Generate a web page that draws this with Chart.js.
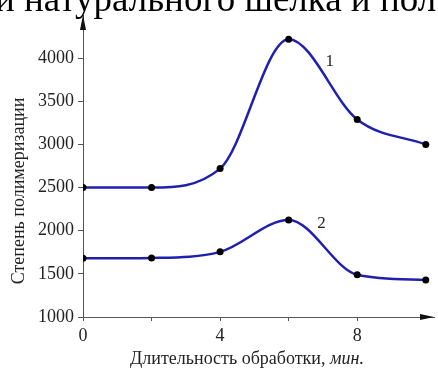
<!DOCTYPE html>
<html>
<head>
<meta charset="utf-8">
<script src="https://cdn.jsdelivr.net/npm/chart.js@4"></script>
<style>
  html, body { margin: 0; padding: 0; background: #fff; }
  #wrap { width: 438px; height: 369px; }
</style>
</head>
<body>
<div id="wrap"><canvas id="degreeChart" width="438" height="369"></canvas></div>
<script>
const times = [0, 2, 4, 6, 8, 10];           // мин.
const curve1 = [2500, 2500, 2720, 4220, 3290, 3000];
const curve2 = [1680, 1685, 1755, 2125, 1490, 1430];
const xTicks = [0, 2, 4, 6, 8];
const xLabeled = [0, 4, 8];
const yTicks = [1000, 1500, 2000, 2500, 3000, 3500, 4000];
const curveNames = ['1', '2'];
const curveNamePos = [[7.2, 3960], [6.96, 2080]];

const serif = '"Liberation Serif", "Times New Roman", serif';
const axisColor = '#555';
const lineColor = '#2020b0';

// arrows on the axes, axis captions, curve numbers and the cut caption line above
const decorations = {
  id: 'decorations',
  afterDraw(chart) {
    const ctx = chart.ctx;
    const a = chart.chartArea;
    ctx.save();
    ctx.fillStyle = '#111';
    // y arrow
    ctx.beginPath();
    ctx.moveTo(a.left, a.top);
    ctx.lineTo(a.left - 3, a.top + 15);
    ctx.lineTo(a.left + 3, a.top + 15);
    ctx.closePath();
    ctx.fill();
    // x arrow
    ctx.beginPath();
    ctx.moveTo(a.right, a.bottom);
    ctx.lineTo(a.right - 14, a.bottom - 3);
    ctx.lineTo(a.right - 14, a.bottom + 3);
    ctx.closePath();
    ctx.fill();

    const xs = chart.scales.x, ys = chart.scales.y;
    ctx.font = '17px ' + serif;
    ctx.fillStyle = '#222';
    ctx.textAlign = 'center';
    ctx.textBaseline = 'middle';
    curveNames.forEach((n, i) => {
      ctx.fillText(n, xs.getPixelForValue(curveNamePos[i][0]), ys.getPixelForValue(curveNamePos[i][1]));
    });

    // y caption
    ctx.save();
    ctx.translate(19, 191);
    ctx.rotate(-Math.PI / 2);
    ctx.font = '18px ' + serif;
    ctx.fillText('Степень полимеризации', 0, 0);
    ctx.restore();

    // x caption, units in italics
    const plain = 'Длительность обработки, ';
    const units = 'мин.';
    ctx.font = '18px ' + serif;
    const w1 = ctx.measureText(plain).width;
    ctx.font = 'italic 18px ' + serif;
    const w2 = ctx.measureText(units).width;
    const x0 = 247 - (w1 + w2) / 2;
    ctx.textAlign = 'left';
    ctx.font = '18px ' + serif;
    ctx.fillText(plain, x0, 359);
    ctx.font = 'italic 18px ' + serif;
    ctx.fillText(units, x0 + w1, 359);

    ctx.font = '37px ' + serif;
    ctx.fillStyle = '#000';
    ctx.textBaseline = 'alphabetic';
    ctx.fillText('и натурального шелка и пол', -5, 11);
    ctx.restore();
  }
};

new Chart(document.getElementById('degreeChart'), {
  type: 'line',
  data: {
    datasets: [
      { data: times.map((t, i) => ({ x: t, y: curve1[i] })) },
      { data: times.map((t, i) => ({ x: t, y: curve2[i] })) }
    ]
  },
  options: {
    responsive: false,
    animation: false,
    layout: { padding: { top: 15, right: 1, left: 0, bottom: 0 } },
    elements: {
      line: { borderColor: lineColor, borderWidth: 2.5, cubicInterpolationMode: 'monotone', fill: false },
      point: { radius: 3.5, backgroundColor: '#000', borderColor: '#000', borderWidth: 0 }
    },
    plugins: { legend: { display: false }, tooltip: { enabled: false } },
    scales: {
      x: {
        type: 'linear',
        min: 0,
        max: 10.24,
        afterBuildTicks: s => { s.ticks = xTicks.map(v => ({ value: v })); },
        afterFit: s => { s.height = 52; },
        border: { display: true, color: axisColor, width: 1 },
        grid: { drawOnChartArea: false, drawTicks: true, tickLength: 4, color: axisColor },
        ticks: {
          padding: 4,
          color: '#222',
          font: { family: serif, size: 18 },
          callback: v => xLabeled.includes(v) ? String(v) : ''
        }
      },
      y: {
        min: 1000,
        max: 4500,
        afterBuildTicks: s => { s.ticks = yTicks.map(v => ({ value: v })); },
        afterFit: s => { s.width = 83; },
        border: { display: true, color: axisColor, width: 1 },
        grid: { drawOnChartArea: false, drawTicks: true, tickLength: 5, color: axisColor },
        ticks: {
          padding: 4,
          color: '#222',
          font: { family: serif, size: 18 },
          callback: v => String(v)
        }
      }
    }
  },
  plugins: [decorations]
});
</script>
</body>
</html>
